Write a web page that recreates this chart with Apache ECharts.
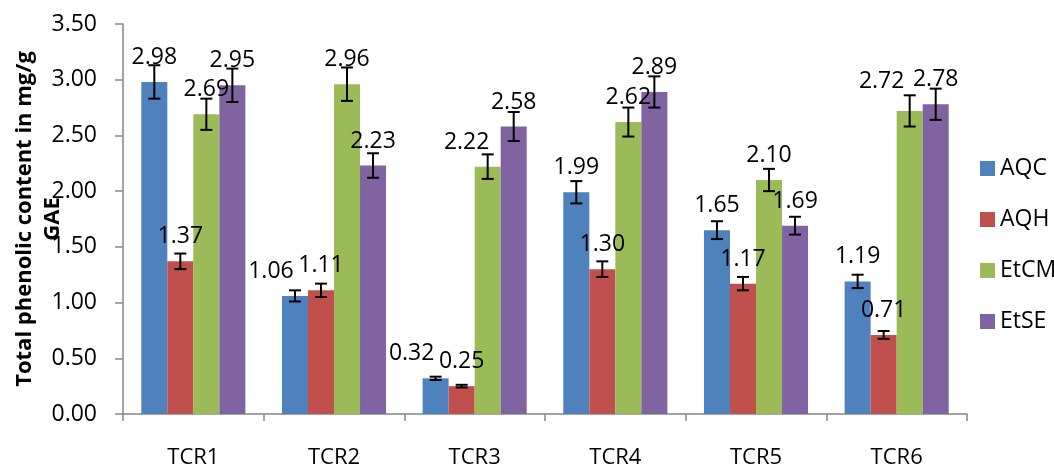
<!DOCTYPE html>
<html>
<head>
<meta charset="utf-8">
<script src="https://cdn.jsdelivr.net/npm/echarts@6/dist/echarts.min.js"></script>
<style>html,body{margin:0;padding:0;background:#fff}#c{width:1054px;height:467px}</style>
</head>
<body>
<div id="c"></div>
<script>
var categories = ['TCR1', 'TCR2', 'TCR3', 'TCR4', 'TCR5', 'TCR6'];
var seriesNames = ['AQC', 'AQH', 'EtCM', 'EtSE'];
var AQC  = [2.98, 1.06, 0.32, 1.99, 1.65, 1.19];
var AQH  = [1.37, 1.11, 0.25, 1.30, 1.17, 0.71];
var EtCM = [2.69, 2.96, 2.22, 2.62, 2.10, 2.72];
var EtSE = [2.95, 2.23, 2.58, 2.89, 1.69, 2.78];
var errAQC  = [0.15, 0.05, 0.015, 0.10, 0.08, 0.06];
var errAQH  = [0.07, 0.06, 0.012, 0.07, 0.06, 0.035];
var errEtCM = [0.14, 0.15, 0.11, 0.13, 0.10, 0.14];
var errEtSE = [0.15, 0.11, 0.13, 0.14, 0.08, 0.14];
var colors = ['#4F81BD', '#C0504D', '#9BBB59', '#8064A2'];

var values = [AQC, AQH, EtCM, EtSE];
var errors = [errAQC, errAQH, errEtCM, errEtSE];
var GAP = 0.26;
var FONT = '"Open Sans", "Liberation Sans", sans-serif';
// label shifts (px) used to avoid overlapping value labels, keyed "series-category"
var labelNudge = { '0-1': [-24, 0], '0-2': [-24, 0], '2-2': [-21, 0], '2-5': [-28, -5] };

var chart = echarts.init(document.getElementById('c'));
var series = [];
seriesNames.forEach(function (name, si) {
  series.push({
    name: name, type: 'bar',
    data: values[si].map(function (v, ci) {
      var n = labelNudge[si + '-' + ci];
      return n ? { value: v, label: { offset: n } } : v;
    }),
    barGap: '0%', barCategoryGap: (GAP * 100) + '%',
    itemStyle: { color: colors[si] },
    label: {
      show: true, position: 'top', distance: 13,
      fontFamily: FONT, fontSize: 23, color: '#000',
      formatter: function (p) { return p.value.toFixed(2); }
    }
  });
});
seriesNames.forEach(function (name, si) {
  series.push({
    type: 'custom', name: name + '_err', z: 5,
    data: values[si].map(function (v, i) { return [i, v, errors[si][i]]; }),
    renderItem: function (params, api) {
      var ci = api.value(0), v = api.value(1), e = api.value(2);
      var band = api.size([1, 0])[0];
      var bw = band * (1 - GAP) / 4;
      var off = (si - 1.5) * bw;
      var top = api.coord([ci, v + e]);
      var bot = api.coord([ci, v - e]);
      var x = top[0] + off;
      var hw = 6;
      var st = { stroke: '#000', lineWidth: 2 };
      return { type: 'group', children: [
        { type: 'line', shape: { x1: x, y1: top[1], x2: x, y2: bot[1] }, style: st },
        { type: 'line', shape: { x1: x - hw, y1: top[1], x2: x + hw, y2: top[1] }, style: st },
        { type: 'line', shape: { x1: x - hw, y1: bot[1], x2: x + hw, y2: bot[1] }, style: st }
      ]};
    }
  });
});

chart.setOption({
  animation: false,
  backgroundColor: '#fff',
  grid: { left: 123, right: 87, top: 24, bottom: 53, containLabel: false, outerBoundsMode: 'none' },
  legend: {
    data: seriesNames, orient: 'vertical', left: 975, top: 152,
    itemWidth: 15, itemHeight: 15, itemGap: 28, icon: 'rect',
    textStyle: { fontFamily: FONT, fontSize: 23, color: '#000', lineHeight: 21 }
  },
  xAxis: {
    type: 'category', data: categories,
    axisLine: { lineStyle: { color: '#868686', width: 1.5 } },
    axisTick: { show: true, length: 7, interval: 0, lineStyle: { color: '#868686', width: 1.5 } },
    axisLabel: { margin: 33, fontFamily: FONT, fontSize: 22, color: '#000' }
  },
  yAxis: {
    type: 'value', min: 0, max: 3.5, interval: 0.5,
    name: 'Total phenolic content in mg/g\nGAE',
    nameLocation: 'middle', nameGap: 56, nameRotate: 90, nameMoveOverlap: false,
    nameTextStyle: { fontFamily: FONT, fontSize: 22, fontWeight: 'bold', color: '#000', lineHeight: 28 },
    splitLine: { show: false },
    axisLine: { show: true, lineStyle: { color: '#868686', width: 1.5 } },
    axisTick: { show: true, length: 8, lineStyle: { color: '#868686', width: 1.5 } },
    axisLabel: { margin: 26, fontFamily: FONT, fontSize: 23, color: '#000',
      formatter: function (v) { return v.toFixed(2); } }
  },
  series: series
});
</script>
</body>
</html>
